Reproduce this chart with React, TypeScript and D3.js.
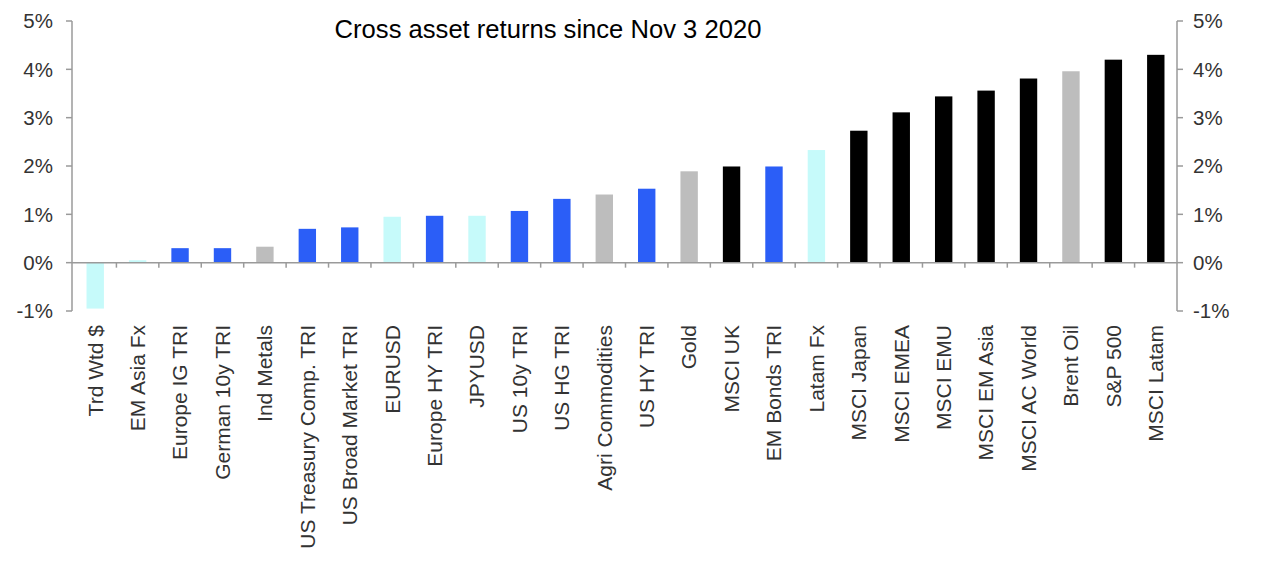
import * as d3 from 'd3'

const categories = [
  'Trd Wtd $', 'EM Asia Fx', 'Europe IG TRI', 'German 10y TRI', 'Ind Metals',
  'US Treasury Comp. TRI', 'US Broad Market TRI', 'EURUSD', 'Europe HY TRI', 'JPYUSD',
  'US 10y TRI', 'US HG TRI', 'Agri Commodities', 'US HY TRI', 'Gold',
  'MSCI UK', 'EM Bonds TRI', 'Latam Fx', 'MSCI Japan', 'MSCI EMEA',
  'MSCI EMU', 'MSCI EM Asia', 'MSCI AC World', 'Brent Oil', 'S&P 500', 'MSCI Latam',
]

const returns = [
  -0.95, 0.05, 0.3, 0.3, 0.33,
  0.7, 0.73, 0.95, 0.97, 0.97,
  1.07, 1.32, 1.41, 1.53, 1.89,
  1.99, 1.99, 2.33, 2.73, 3.11,
  3.44, 3.56, 3.81, 3.96, 4.2, 4.3,
]

// asset class per bar: fx, bond, commodity, equity
const groups = [
  'fx', 'fx', 'bond', 'bond', 'cmdty',
  'bond', 'bond', 'fx', 'bond', 'fx',
  'bond', 'bond', 'cmdty', 'bond', 'cmdty',
  'eq', 'bond', 'fx', 'eq', 'eq',
  'eq', 'eq', 'eq', 'cmdty', 'eq', 'eq',
]

const yTicks = [-1, 0, 1, 2, 3, 4, 5]

const COLORS: Record<string, string> = {
  fx: '#c6fafa',
  bond: '#2b5ef7',
  cmdty: '#bdbdbd',
  eq: '#000000',
}

const AXIS = '#9a9a9a'
const TEXT = '#333333'

export default function App() {
  const width = 1280
  const height = 561
  const left = 72
  const right = 1177

  const x = d3.scaleBand<string>()
    .domain(categories)
    .range([left + 2, right])
    .paddingInner(0.59)
    .paddingOuter(0.295)

  const y = d3.scaleLinear().domain([-1, 5]).range([311, 21])

  const step = x.step()
  const boundaries = d3.range(1, categories.length).map(i => left + 2 + i * step)

  return (
    <svg
      width={width}
      height={height}
      style={{position: 'absolute', left: 0, top: 0, background: '#fff'}}
      fontFamily={'Liberation Sans, Arial, sans-serif'}
    >
      <text x={548} y={38} textAnchor={'middle'} fontSize={25.6} fill={'#000'}>
        Cross asset returns since Nov 3 2020
      </text>

      {categories.map((c, i) => {
        const v = returns[i]
        return (
          <rect
            key={c}
            x={x(c)}
            width={x.bandwidth()}
            y={y(Math.max(0, v))}
            height={Math.abs(y(v) - y(0))}
            fill={COLORS[groups[i]]}
          />
        )
      })}

      {/* axes */}
      <g stroke={AXIS} strokeWidth={1.5}>
        <line x1={left} x2={left} y1={y(5)} y2={y(-1)} />
        {yTicks.map(t => (
          <line key={t} x1={left - 6} x2={left} y1={y(t)} y2={y(t)} />
        ))}
        <line x1={right} x2={right} y1={y(5)} y2={y(-1)} />
        {yTicks.map(t => (
          <line key={'r' + t} x1={right} x2={right + 6} y1={y(t)} y2={y(t)} />
        ))}
        <line x1={left} x2={right} y1={y(0)} y2={y(0)} />
        {boundaries.map((b, i) => (
          <line key={'b' + i} x1={b} x2={b} y1={y(0)} y2={y(0) + 5} />
        ))}
      </g>

      <g fontSize={20.5} fill={TEXT}>
        {yTicks.map(t => (
          <text key={t} x={53} y={y(t)} dy={'0.35em'} textAnchor={'end'}>
            {`${t}%`}
          </text>
        ))}
        {yTicks.map(t => (
          <text key={'r' + t} x={1193} y={y(t)} dy={'0.35em'} textAnchor={'start'}>
            {`${t}%`}
          </text>
        ))}
      </g>

      <g fontSize={21} fill={TEXT}>
        {categories.map(c => (
          <text
            key={c}
            transform={`translate(${(x(c) ?? 0) + x.bandwidth() / 2}, 325) rotate(-90)`}
            dy={'0.35em'}
            textAnchor={'end'}
          >
            {c}
          </text>
        ))}
      </g>
    </svg>
  )
}
